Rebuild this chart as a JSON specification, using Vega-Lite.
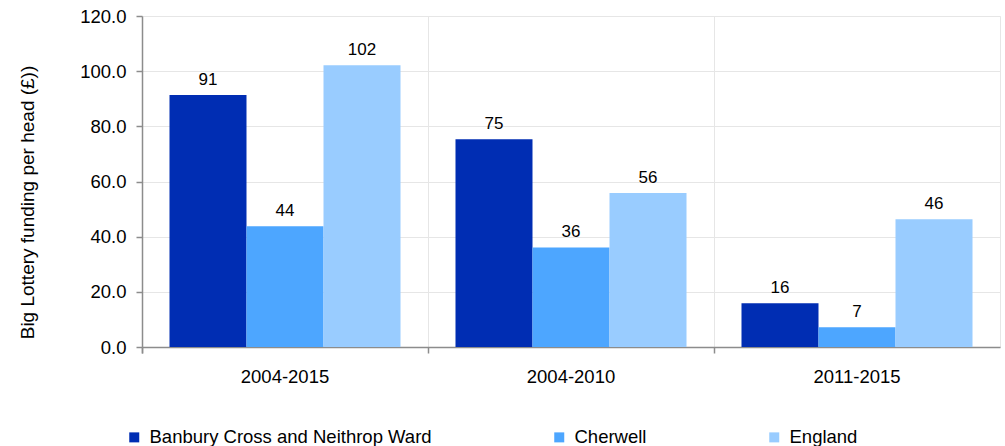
{
  "$schema": "https://vega.github.io/schema/vega-lite/v6.json",
  "width": 858,
  "height": 331,
  "autosize": {"type": "none"},
  "padding": {"left": 142, "top": 16, "right": 5, "bottom": 99},
  "config": {
    "view": {"stroke": "#e6e6e6", "strokeWidth": 1},
    "font": "Liberation Sans"
  },
  "data": {
    "values": [
      {"period": "2004-2015", "area": "Banbury Cross and Neithrop Ward", "value": 91.4},
      {"period": "2004-2015", "area": "Cherwell", "value": 43.8},
      {"period": "2004-2015", "area": "England", "value": 102.1},
      {"period": "2004-2010", "area": "Banbury Cross and Neithrop Ward", "value": 75.3},
      {"period": "2004-2010", "area": "Cherwell", "value": 36.1},
      {"period": "2004-2010", "area": "England", "value": 55.8},
      {"period": "2011-2015", "area": "Banbury Cross and Neithrop Ward", "value": 15.9},
      {"period": "2011-2015", "area": "Cherwell", "value": 7.2},
      {"period": "2011-2015", "area": "England", "value": 46.3}
    ]
  },
  "encoding": {
    "x": {
      "field": "period",
      "type": "nominal",
      "sort": ["2004-2015", "2004-2010", "2011-2015"],
      "scale": {"paddingInner": 0, "paddingOuter": 0},
      "axis": {
        "title": null,
        "labelAngle": 0,
        "labelFontSize": 18.5,
        "labelColor": "#000000",
        "labelPadding": 14,
        "bandPosition": 0,
        "tickExtra": true,
        "tickSize": 6,
        "tickColor": "#8c8c8c",
        "domainColor": "#8c8c8c",
        "domainWidth": 1.5,
        "tickWidth": 1.5,
        "grid": true,
        "gridColor": "#e6e6e6",
        "gridWidth": 1
      }
    },
    "xOffset": {
      "field": "area",
      "type": "nominal",
      "sort": ["Banbury Cross and Neithrop Ward", "Cherwell", "England"],
      "scale": {"paddingInner": 0, "paddingOuter": 0.357}
    },
    "y": {
      "field": "value",
      "type": "quantitative",
      "scale": {"domain": [0, 120], "nice": false},
      "axis": {
        "title": "Big Lottery funding per head (£))",
        "titleFontSize": 19,
        "titleFontWeight": "normal",
        "titleColor": "#000000",
        "titlePadding": 42,
        "titleY": 186,
        "values": [0, 20, 40, 60, 80, 100, 120],
        "format": ".1f",
        "labelFontSize": 18.5,
        "labelColor": "#000000",
        "labelPadding": 10,
        "tickSize": 6,
        "tickColor": "#8c8c8c",
        "tickWidth": 1.5,
        "domainColor": "#8c8c8c",
        "domainWidth": 1.5,
        "grid": true,
        "gridColor": "#e6e6e6",
        "gridWidth": 1
      }
    }
  },
  "layer": [
    {
      "mark": {"type": "bar"},
      "encoding": {
        "color": {
          "field": "area",
          "type": "nominal",
          "sort": ["Banbury Cross and Neithrop Ward", "Cherwell", "England"],
          "scale": {
            "domain": ["Banbury Cross and Neithrop Ward", "Cherwell", "England"],
            "range": ["#002DB3", "#4DA6FF", "#99CCFF"]
          },
          "legend": {
            "title": null,
            "orient": "none",
            "direction": "horizontal",
            "legendX": -17,
            "legendY": 412,
            "symbolType": "square",
            "symbolSize": 100,
            "symbolStrokeWidth": 0,
            "labelFontSize": 18.5,
            "labelColor": "#000000",
            "labelLimit": 400,
            "labelOffset": 6,
            "columnPadding": 118,
            "columns": 3
          }
        }
      }
    },
    {
      "mark": {"type": "text", "dy": -15, "fontSize": 17, "color": "#000000", "baseline": "middle"},
      "encoding": {
        "text": {"field": "value", "type": "quantitative", "format": ".0f"}
      }
    }
  ]
}
